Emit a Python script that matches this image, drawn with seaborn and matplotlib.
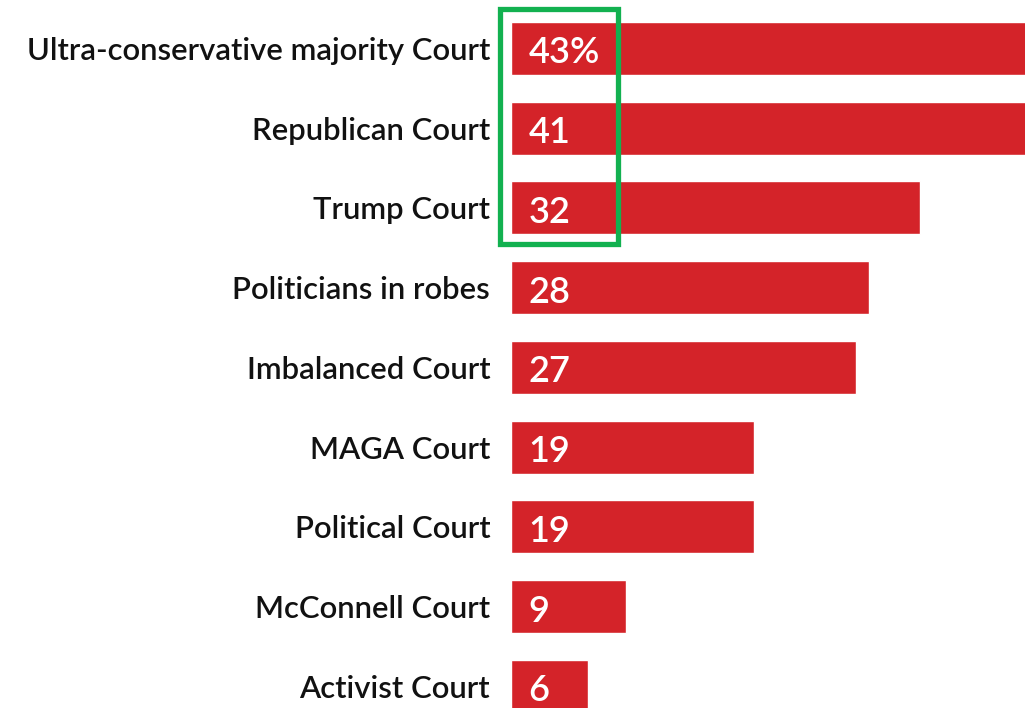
import matplotlib
matplotlib.use("Agg")
import matplotlib.pyplot as plt
import seaborn as sns
import pandas as pd
from matplotlib.patches import Rectangle

categories = ["Ultra-conservative majority Court", "Republican Court", "Trump Court",
              "Politicians in robes", "Imbalanced Court", "MAGA Court",
              "Political Court", "McConnell Court", "Activist Court"]
values = [43, 41, 32, 28, 27, 19, 19, 9, 6]
value_labels = ["43%", "41", "32", "28", "27", "19", "19", "9", "6"]

df = pd.DataFrame({"label": categories, "value": values})

sns.set_theme(style="white")
plt.rcParams["font.family"] = ["Lato", "DejaVu Sans"]

fig = plt.figure(figsize=(10.36, 7.08), dpi=100)
ax = fig.add_axes([511 / 1036, 0, (1025 - 511) / 1036, 1])

RED = "#d42329"
sns.barplot(data=df, y="label", x="value", orient="h", color=RED,
            width=0.665, saturation=1, ax=ax)

ax.set_xlim(0, 40.2)
ax.set_ylim(8.27, -0.608)
ax.set_xlabel("")
ax.set_ylabel("")
ax.set_xticks([])
for s in ax.spines.values():
    s.set_visible(False)
ax.tick_params(axis="y", length=0, pad=15)
for t in ax.get_yticklabels():
    t.set_fontsize(22.3)
    t.set_color("#111111")
    t.set_fontweight("semibold")
    t.set_verticalalignment("center_baseline")

for i, lab in enumerate(value_labels):
    ax.annotate(lab, xy=(0, i), xytext=(12.5, -1), textcoords="offset points",
                va="center_baseline", ha="left", color="white", fontsize=26,
                fontweight="semibold")

rect = Rectangle((-0.86, -0.495), 8.37 + 0.86, 2.452 + 0.495, fill=False,
                 edgecolor="#12b150", linewidth=3.8, clip_on=False, zorder=5)
ax.add_patch(rect)

fig.savefig("out.png", dpi=100)
